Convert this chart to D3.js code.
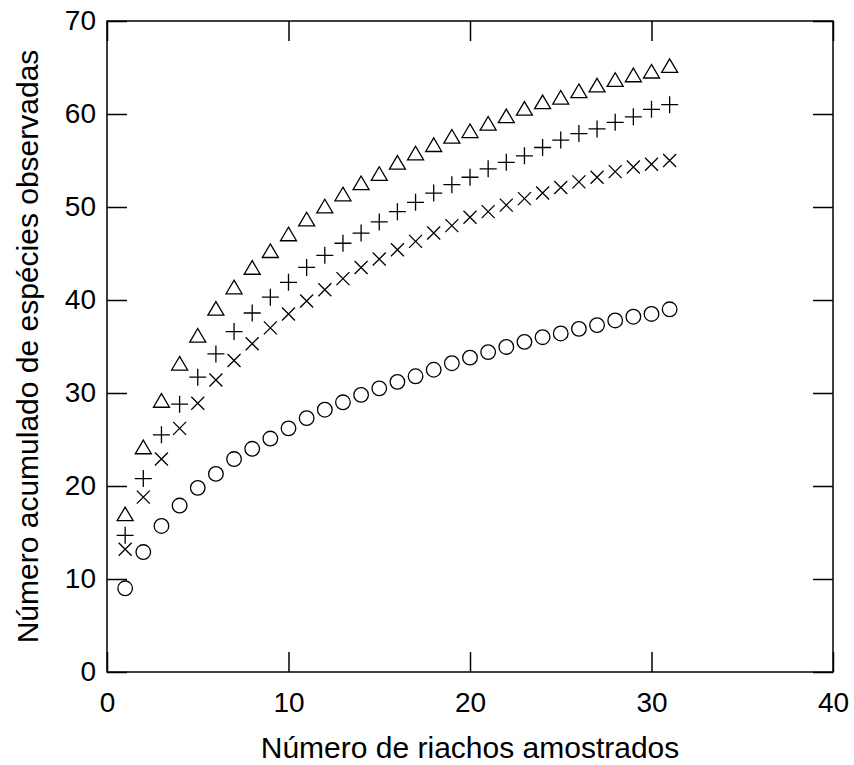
<!DOCTYPE html>
<html lang="pt">
<head>
<meta charset="UTF-8">
<title>Curva de acumulação de espécies</title>
<style>
  body { margin: 0; background: #fff; }
  text { font-family: "Liberation Sans", Arial, sans-serif; fill: #000; }
</style>
</head>
<body>
<div id="chart"></div>
<script src="https://d3js.org/d3.v7.min.js"></script>
<script>
// number of streams sampled (x)
var riachos = d3.range(1, 32);

// accumulated species, one array per series
var triangulos = [17.0, 24.2, 29.2, 33.2, 36.2, 39.1, 41.4, 43.5, 45.3, 47.1,
                  48.7, 50.1, 51.4, 52.6, 53.6, 54.8, 55.8, 56.7, 57.6, 58.2,
                  59.0, 59.8, 60.6, 61.3, 61.8, 62.5, 63.1, 63.7, 64.2, 64.6, 65.2];
var cruzes = [14.7, 20.8, 25.5, 28.8, 31.7, 34.2, 36.6, 38.6, 40.3, 41.9,
              43.5, 44.8, 46.1, 47.2, 48.4, 49.5, 50.5, 51.5, 52.4, 53.2,
              54.1, 54.8, 55.5, 56.4, 57.2, 57.9, 58.4, 59.1, 59.7, 60.5, 61.0];
var xis = [13.2, 18.8, 22.9, 26.2, 28.9, 31.4, 33.5, 35.3, 37.0, 38.5,
           39.9, 41.1, 42.3, 43.5, 44.4, 45.4, 46.3, 47.2, 48.0, 48.9,
           49.5, 50.2, 50.9, 51.5, 52.1, 52.7, 53.2, 53.8, 54.3, 54.6, 55.0];
var circulos = [9.0, 12.9, 15.7, 17.9, 19.8, 21.3, 22.9, 24.0, 25.1, 26.2,
                27.3, 28.2, 29.0, 29.8, 30.5, 31.2, 31.8, 32.5, 33.2, 33.8,
                34.4, 34.95, 35.5, 36.0, 36.4, 36.9, 37.3, 37.8, 38.2, 38.5, 39.0];

var xTicks = [0, 10, 20, 30, 40];
var yTicks = [0, 10, 20, 30, 40, 50, 60, 70];

var margin = {top: 21, right: 21, bottom: 93, left: 107},
    width = 854 - margin.left - margin.right,
    height = 765 - margin.top - margin.bottom;

var svg = d3.select("#chart")
  .append("svg")
    .attr("width", 854)
    .attr("height", 765)
  .append("g")
    .attr("transform", "translate(" + margin.left + "," + margin.top + ")");

var x = d3.scaleLinear().domain([0, 40]).range([0, width]);
var y = d3.scaleLinear().domain([0, 70]).range([height, 0]);

// frame
svg.append("rect")
  .attr("width", width).attr("height", height)
  .attr("fill", "none").attr("stroke", "#000").attr("stroke-width", 1.5);

// axes with inward ticks on all four sides
var tickLen = 20;
svg.append("g")
  .attr("transform", "translate(0," + height + ")")
  .call(d3.axisBottom(x).tickValues(xTicks).tickSizeInner(-tickLen).tickSizeOuter(0).tickPadding(20));
svg.append("g")
  .call(d3.axisTop(x).tickValues(xTicks).tickSizeInner(-tickLen).tickSizeOuter(0).tickFormat(""));
svg.append("g")
  .call(d3.axisLeft(y).tickValues(yTicks).tickSizeInner(-tickLen).tickSizeOuter(0).tickPadding(11));
svg.append("g")
  .attr("transform", "translate(" + width + ",0)")
  .call(d3.axisRight(y).tickValues(yTicks).tickSizeInner(-tickLen).tickSizeOuter(0).tickFormat(""));

svg.selectAll(".domain").remove();
svg.selectAll(".tick line").attr("stroke", "#000").attr("stroke-width", 1.5);
svg.selectAll(".tick text")
  .style("font-size", "28px")
  .style("font-family", "'Liberation Sans', Arial, sans-serif");

// axis titles
svg.append("text")
  .attr("x", width / 2)
  .attr("y", height + 86)
  .attr("text-anchor", "middle")
  .style("font-size", "30px")
  .text("Número de riachos amostrados");

svg.append("text")
  .attr("transform", "rotate(-90)")
  .attr("x", -height / 2)
  .attr("y", -69)
  .attr("text-anchor", "middle")
  .style("font-size", "30px")
  .text("Número acumulado de espécies observadas");

// markers
var mk = svg.append("g")
  .attr("fill", "none").attr("stroke", "#000").attr("stroke-width", 1.3);

var formas = {
  circulo: "M7.3,0A7.3,7.3 0 1,1 -7.3,0A7.3,7.3 0 1,1 7.3,0Z",
  triangulo: "M0,-6.8L8,6.8L-8,6.8Z",
  cruz: "M-8.5,0H8.5M0,-8.5V8.5",
  xis: "M-6.5,-6.5L6.5,6.5M-6.5,6.5L6.5,-6.5"
};

function pontos(valores, forma) {
  mk.selectAll(null)
    .data(valores)
    .enter()
    .append("path")
      .attr("transform", function(d, i) { return "translate(" + x(riachos[i]) + "," + y(d) + ")"; })
      .attr("d", formas[forma]);
}

pontos(circulos, "circulo");
pontos(triangulos, "triangulo");
pontos(cruzes, "cruz");
pontos(xis, "xis");
</script>
</body>
</html>
